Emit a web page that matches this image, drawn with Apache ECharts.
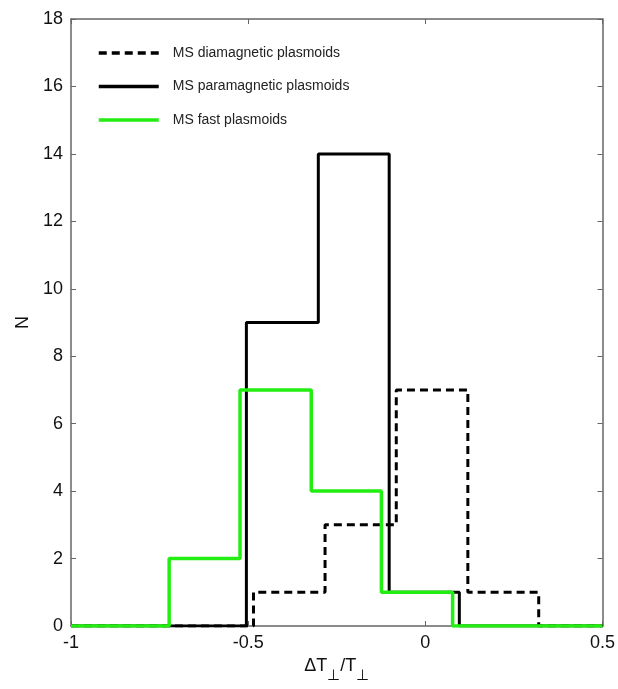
<!DOCTYPE html>
<html>
<head>
<meta charset="utf-8">
<script src="https://cdn.jsdelivr.net/npm/echarts@6/dist/echarts.min.js"></script>
<style>
  html, body { margin: 0; padding: 0; background: #fff; }
  #chart { width: 618px; height: 689px; }
</style>
</head>
<body>
<div id="chart"></div>
<script>
// histogram bin edges and counts
var diaEdges = [-0.485, -0.283, -0.082, 0.12, 0.32]
var diaCounts = [1, 3, 7, 1]
var paraEdges = [-0.505, -0.302, -0.102, 0.096]
var paraCounts = [9, 14, 1]
var fastEdges = [-0.723, -0.523, -0.322, -0.124, 0.077]
var fastCounts = [2, 7, 4, 1]
var xTicks = [-1, -0.5, 0, 0.5]
var yTicks = [0, 2, 4, 6, 8, 10, 12, 14, 16, 18]

var xMin = xTicks[0]
var xMax = xTicks[xTicks.length - 1]

// outline points for a step line: from xMin at 0, up through the bins, back to 0 until xMax
function outline(edges, counts) {
  var pts = [[xMin, 0]]
  for (var i = 0; i < counts.length; i++) {
    pts.push([edges[i], counts[i]])
  }
  pts.push([edges[edges.length - 1], 0])
  pts.push([xMax, 0])
  return pts
}

var axisColor = '#666'
var font = 'Liberation Sans, Arial, sans-serif'

function axisBase() {
  return {
    type: 'value',
    axisLine: { show: true, onZero: false, lineStyle: { color: axisColor, width: 1.5 } },
    axisTick: { show: true, inside: true, length: 5, lineStyle: { color: axisColor } },
    axisLabel: { fontFamily: font, fontSize: 18, color: '#111', margin: 8 },
    splitLine: { show: false }
  }
}

var chart = echarts.init(document.getElementById('chart'))

chart.setOption({
  backgroundColor: '#fff',
  animation: false,
  grid: { left: 71, right: 15, top: 19, bottom: 63 },
  legend: {
    orient: 'vertical',
    left: 92,
    top: 41,
    itemWidth: 60,
    itemHeight: 14,
    itemGap: 19.5,
    itemStyle: { opacity: 0 },
    lineStyle: { width: 3.5 },
    textStyle: { fontFamily: font, fontSize: 14, color: '#222', padding: [0, 0, 0, 9] },
    data: ['MS diamagnetic plasmoids', 'MS paramagnetic plasmoids', 'MS fast plasmoids']
  },
  xAxis: [Object.assign(axisBase(), {
    min: xMin,
    max: xMax,
    interval: 0.5,
    name: '{a|ΔT}{s|⊥}{a|/T}{s|⊥}',
    nameLocation: 'middle',
    nameGap: 19,
    nameTextStyle: {
      rich: {
        a: { fontFamily: font, fontSize: 18, color: '#111', verticalAlign: 'top', lineHeight: 20 },
        s: { fontFamily: font, fontSize: 15, color: '#111', verticalAlign: 'top', lineHeight: 20, padding: [11, 0, 0, 0] }
      }
    }
  }), Object.assign(axisBase(), {
    position: 'top',
    min: xMin,
    max: xMax,
    interval: 0.5,
    axisLabel: { show: false }
  })],
  yAxis: [Object.assign(axisBase(), {
    min: yTicks[0],
    max: yTicks[yTicks.length - 1],
    interval: 2,
    name: 'N',
    nameLocation: 'middle',
    nameRotate: 90,
    nameGap: 37,
    nameTextStyle: { fontFamily: font, fontSize: 18, color: '#111' }
  }), Object.assign(axisBase(), {
    position: 'right',
    min: yTicks[0],
    max: yTicks[yTicks.length - 1],
    interval: 2,
    axisLabel: { show: false }
  })],
  series: [{
    name: 'MS diamagnetic plasmoids',
    type: 'line',
    step: 'end',
    symbol: 'none',
    color: '#000',
    lineStyle: { color: '#000', width: 3, type: [8, 5] },
    data: outline(diaEdges, diaCounts),
    z: 2
  }, {
    name: 'MS paramagnetic plasmoids',
    type: 'line',
    step: 'end',
    symbol: 'none',
    color: '#000',
    lineStyle: { color: '#000', width: 3 },
    data: outline(paraEdges, paraCounts),
    z: 3
  }, {
    name: 'MS fast plasmoids',
    type: 'line',
    step: 'end',
    symbol: 'none',
    color: '#22ee11',
    lineStyle: { color: '#22ee11', width: 3.5 },
    data: outline(fastEdges, fastCounts),
    z: 4
  }]
})
</script>
</body>
</html>
